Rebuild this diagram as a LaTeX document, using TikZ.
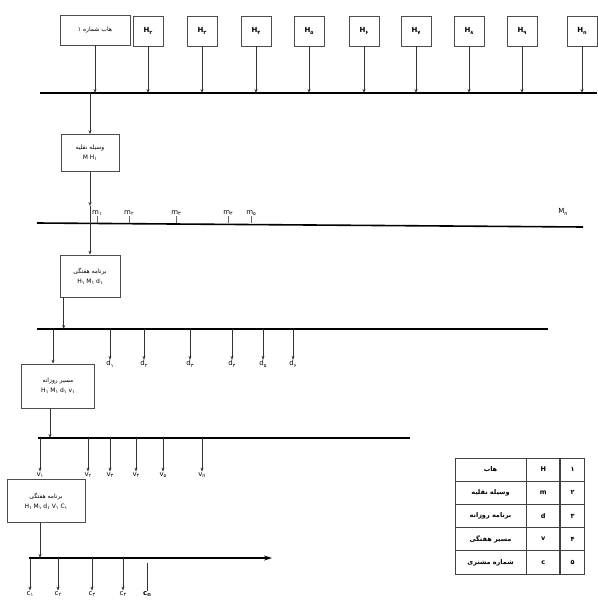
\documentclass[tikz,border=0pt]{standalone}
\usepackage{fontspec}
\setmainfont{DejaVu Sans}
\newfontfamily\fafont[Script=Arabic]{DejaVu Sans}
\TeXXeTstate=1
\usetikzlibrary{arrows.meta, positioning}

\newcommand{\fa}[1]{{\fafont\beginR #1\endR}}
\newcommand{\sbs}[1]{\raisebox{-0.4ex}{\fontsize{5}{5}\selectfont #1}}

\begin{document}
\begin{tikzpicture}[
            x=1pt, y=-1pt,
            every node/.style={font=\fontsize{6}{8}\selectfont},
            box/.style={
                rectangle,
                draw=black!70,
                line width=0.7pt,
                align=center,
                inner sep=1pt
            },
            hbox/.style={box, minimum width=30pt, minimum height=30pt, font=\fontsize{7}{8}\selectfont\bfseries},
            cell/.style={rectangle, draw=black!75, line width=0.8pt, minimum height=23.2pt, inner sep=0pt, font=\fontsize{6.5}{7}\selectfont\bfseries},
            lbl/.style={inner sep=0.5pt, font=\fontsize{7}{8}\selectfont},
            bus/.style={line width=1.6pt},
            arrow/.style={-{Stealth[length=4pt,width=3pt]}, black!80, line width=0.6pt},
            tick/.style={black!60, line width=0.4pt}
        ]
        \useasboundingbox (0,0) rectangle (597,604);

        % Nodes
        \node[box, minimum width=70pt, minimum height=30pt] (hub) at (95,30) {\fa{هاب شماره ۱}};
        \foreach \x/\s [count=\i] in {148/۲,202/۳,256/۴,309/۵,364/۶,416/۷,469/۸,522/۹,582/n}
            \node[hbox] (h\i) at (\x,31) {H\sbs{\s}};

        \node[box, minimum width=58pt, minimum height=37pt] (veh) at (90,153) {\fa{وسیله نقلیه}\\[2pt] M H\sbs{۱}};
        \node[box, minimum width=60pt, minimum height=42pt] (week) at (90,276) {\fa{برنامه هفتگی}\\[2pt] H\sbs{۱} M\sbs{۱} d\sbs{۱}};
        \node[box, minimum width=73pt, minimum height=44pt] (route) at (58,386) {\fa{مسیر روزانه}\\[2pt] H\sbs{۱} M\sbs{۱} d\sbs{۱} v\sbs{۱}};
        \node[box, minimum width=78pt, minimum height=43pt] (cust) at (46,501) {\fa{برنامه هفتگی}\\[2pt] H\sbs{۱} M\sbs{۱} d\sbs{۱} V\sbs{۱} C\sbs{۱}};

        % Buses
        \coordinate (busA-w) at (40,93);  \coordinate (busA-e) at (597,93);
        \coordinate (busB-w) at (37,223); \coordinate (busB-e) at (583,227);
        \coordinate (busC-w) at (37,329); \coordinate (busC-e) at (548,329);
        \coordinate (busD-w) at (38,438); \coordinate (busD-e) at (410,438);
        \coordinate (busE-w) at (29,558); \coordinate (busE-e) at (272,558);
        \draw[bus] (busA-w) -- (busA-e);
        \draw[bus] (busB-w) -- (busB-e);
        \draw[bus] (busC-w) -- (busC-e);
        \draw[bus] (busD-w) -- (busD-e);
        \draw[bus, -{Stealth[length=8pt,width=5pt]}] (busE-w) -- (busE-e);

        % Hubs to first bus
        \draw[arrow] (hub.south) -- (hub.south |- busA-w);
        \foreach \i in {1,...,9}
            \draw[arrow] (h\i.south) -- (h\i.south |- busA-w);

        % Vehicles
        \draw[arrow] (veh.north |- busA-w) -- (veh.north);
        \draw[arrow] (veh.south) -- ([yshift=17pt]veh.south |- busB-w);
        \draw[arrow] ([yshift=17pt]veh.south |- busB-w) -- (week.north);
        \foreach \x/\s [count=\i] in {97/۱,129/۲,176/۳,228/۴,251/۵} {
            \node[lbl] (m\i) at (\x,213) {m\sbs{\s}};
            \draw[tick] (m\i.south) -- (m\i.south |- busB-w);
        }
        \node[lbl] (mn) at (563,212) {M\sbs{n}};

        % Days
        \draw[arrow] ([xshift=4pt]week.south west) -- ([xshift=4pt]week.south west |- busC-w);
        \draw[arrow] ([xshift=-5pt]route.north |- busC-w) -- ([xshift=-5pt]route.north);
        \foreach \x/\s [count=\i] in {110/۱,144/۲,190/۳,232/۴,263/۵,293/۶} {
            \node[lbl] (d\i) at (\x,364) {d\sbs{\s}};
            \draw[arrow] (d\i.north |- busC-w) -- (d\i.north);
        }

        % Routes
        \draw[arrow] ([xshift=-8pt]route.south) -- ([xshift=-8pt]route.south |- busD-w);
        \foreach \x/\s [count=\i] in {40/۱,88/۲,110/۳,136/۴,163/۵,202/n} {
            \node[lbl] (v\i) at (\x,475) {v\sbs{\s}};
            \draw[arrow] (v\i.north |- busD-w) -- (v\i.north);
        }

        % Customers
        \draw[arrow] ([xshift=-6pt]cust.south) -- ([xshift=-6pt]cust.south |- busE-w);
        \foreach \x/\s [count=\i] in {30/۱,58/۲,92/۳,123/۴} {
            \node[lbl] (c\i) at (\x,594) {c\sbs{\s}};
            \draw[arrow] (c\i.north |- busE-w) -- (c\i.north);
        }
        \node[lbl, font=\fontsize{7}{8}\selectfont\bfseries] (cn) at (147,594) {c\sbs{n}};
        \draw[black!80, line width=0.6pt] ([yshift=-5pt]cn.north |- busE-w) -- (cn.north);

        % Legend table
        \foreach \num/\sym/\txt [count=\i] in {۱/H/هاب,۲/m/وسیله نقلیه,۳/d/برنامه روزانه,۴/v/مسیر هفتگی,۵/c/شماره مشتری} {
            \node[cell, minimum width=71pt] (t\i) at (490.5,446.4+23.2*\i) {\fa{\txt}};
            \node[cell, minimum width=33pt, right=0pt of t\i] (s\i) {\sym};
            \node[cell, minimum width=24pt, right=0pt of s\i] (n\i) {\num};
        }
        \end{tikzpicture}
\end{document}
